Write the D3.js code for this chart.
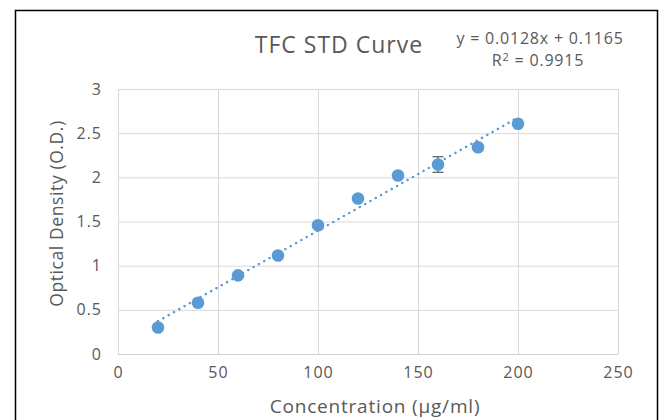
<!DOCTYPE html>
<html>
<head>
<meta charset="utf-8">
<title>TFC STD Curve</title>
<script src="https://cdn.jsdelivr.net/npm/d3@7"></script>
<style>
  body { margin: 0; background: #fff; }
  text { font-family: "Open Sans", Lato, sans-serif; fill: #595959; }
</style>
</head>
<body>
<div id="chart"></div>
<script>
// concentration (ug/ml) and measured O.D.
var concentration = [20, 40, 60, 80, 100, 120, 140, 160, 180, 200];
var opticalDensity = [0.30, 0.58, 0.89, 1.115, 1.457, 1.76, 2.02, 2.145, 2.34, 2.607];
var errorOD = [0.01, 0.01, 0.01, 0.01, 0.01, 0.01, 0.01, 0.088, 0.01, 0.01];
var xTicks = [0, 50, 100, 150, 200, 250];
var yTicks = [0, 0.5, 1, 1.5, 2, 2.5, 3];
var slope = 0.0128, intercept = 0.1165, rSquared = 0.9915;

var width = 660, height = 420;
var margin = {left: 118, right: 42, top: 89, bottom: 66};
var blue = "#5b9bd5";

var svg = d3.select("#chart").append("svg")
  .attr("width", width).attr("height", height);

// outer chart frame
svg.append("rect")
  .attr("x", 15.5).attr("y", 10.5)
  .attr("width", 642).attr("height", 420)
  .attr("fill", "#fff").attr("stroke", "#000").attr("stroke-width", 1.5);

var x = d3.scaleLinear().domain([0, 250]).range([margin.left, width - margin.right]);
var y = d3.scaleLinear().domain([0, 3]).range([height - margin.bottom, margin.top]);

// grid
var gx = svg.append("g")
  .attr("transform", "translate(0," + (height - margin.bottom) + ")")
  .call(d3.axisBottom(x).tickValues(xTicks).tickSize(-(y(0) - y(3))).tickPadding(13));
var gy = svg.append("g")
  .attr("transform", "translate(" + margin.left + ",0)")
  .call(d3.axisLeft(y).tickValues(yTicks).tickSize(-(x(250) - x(0))).tickPadding(16)
    .tickFormat(function(d){ return d; }));
[gx, gy].forEach(function(g){
  g.select(".domain").remove();
  g.selectAll(".tick line").attr("stroke", "#d9d9d9").attr("stroke-width", 1);
  g.selectAll(".tick text").style("font-size", "16px").style("letter-spacing", "1px")
    .attr("fill", "#595959");
});
gy.select(".tick line").attr("stroke", "#d0d0d0");

// trendline, only across the data range
var xs = d3.extent(concentration);
svg.append("line")
  .attr("x1", x(xs[0])).attr("y1", y(slope * xs[0] + intercept))
  .attr("x2", x(xs[1])).attr("y2", y(slope * xs[1] + intercept))
  .attr("stroke", blue).attr("stroke-width", 2.5)
  .attr("stroke-linecap", "round").attr("stroke-dasharray", "0.1 6");

// error bars
var eb = svg.append("g").attr("stroke", "#595959").attr("stroke-width", 1.2);
concentration.forEach(function(c, i){
  var cx = x(c), lo = y(opticalDensity[i] - errorOD[i]), hi = y(opticalDensity[i] + errorOD[i]);
  eb.append("line").attr("x1", cx).attr("x2", cx).attr("y1", lo).attr("y2", hi);
  eb.append("line").attr("x1", cx - 5.5).attr("x2", cx + 5.5).attr("y1", lo).attr("y2", lo);
  eb.append("line").attr("x1", cx - 5.5).attr("x2", cx + 5.5).attr("y1", hi).attr("y2", hi);
});

svg.append("g").selectAll("circle")
  .data(concentration)
  .enter().append("circle")
  .attr("cx", function(d){ return x(d); })
  .attr("cy", function(d, i){ return y(opticalDensity[i]); })
  .attr("r", 6.3)
  .attr("fill", blue);

// titles
svg.append("text").attr("x", 339).attr("y", 53)
  .attr("text-anchor", "middle").style("font-size", "23px").style("letter-spacing", "1px")
  .text("TFC STD Curve");
svg.append("text").attr("x", 540).attr("y", 44)
  .attr("text-anchor", "middle").style("font-size", "16px").style("letter-spacing", "0.8px")
  .text("y = " + slope + "x + " + intercept);
var r2 = svg.append("text").attr("x", 538).attr("y", 66)
  .attr("text-anchor", "middle").style("font-size", "16px").style("letter-spacing", "0.8px");
r2.append("tspan").text("R");
r2.append("tspan").attr("dy", -5).style("font-size", "11px").text("2");
r2.append("tspan").attr("dy", 5).text(" = " + rSquared);

svg.append("text")
  .attr("transform", "translate(63," + ((y(0) + y(3)) / 2 - 8) + ") rotate(-90)")
  .attr("text-anchor", "middle").style("font-size", "17.5px").style("letter-spacing", "0.6px")
  .text("Optical Density (O.D.)");
svg.append("text").attr("x", 375).attr("y", 413)
  .attr("text-anchor", "middle").style("font-size", "19px").style("letter-spacing", "0.8px")
  .text("Concentration (\u00b5g/ml)");
</script>
</body>
</html>
